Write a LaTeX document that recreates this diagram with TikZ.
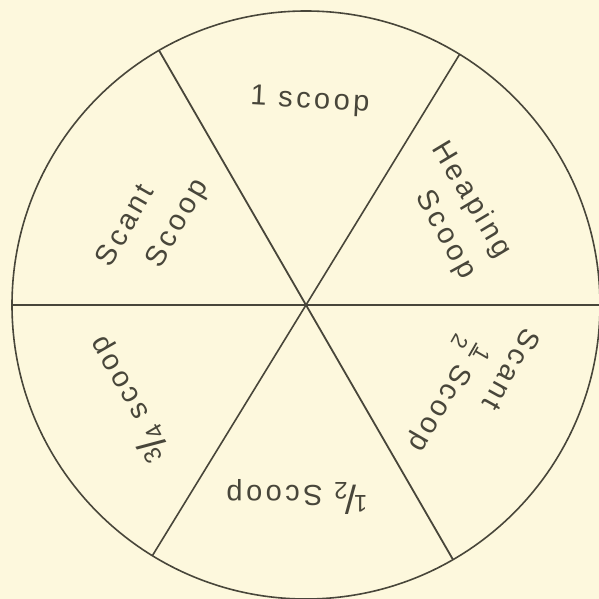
\documentclass[tikz,border=0pt]{standalone}
\usepackage{fontspec}
\usepackage{tikz}
\usetikzlibrary{calc}
\newfontfamily\handfont[LetterSpace=12]{Liberation Sans}
\definecolor{paper}{RGB}{253,248,221}
\definecolor{ink}{RGB}{72,70,58}
% hand-written fractions
\newcommand\slfrac[2]{\raisebox{0.34em}{\fontsize{24}{24}\selectfont #1}\kern-0.08em{\fontsize{40}{40}\selectfont/}\kern-0.08em\raisebox{-0.12em}{\fontsize{24}{24}\selectfont #2}}
\newcommand\stfrac[2]{\raisebox{-0.5em}{\fontsize{22}{17}\selectfont\shortstack{#1\\[-1pt]{\color{ink}\rule{0.7em}{1.8pt}}\\[3pt]#2}}}

\begin{document}
\begin{tikzpicture}[x=1pt, y=1pt, every node/.style={font=\fontsize{29}{34}\selectfont\handfont, text=ink, inner sep=0pt}]
        \fill[paper] (-306,-294) rectangle (293,305);
        \useasboundingbox (-306,-294) rectangle (293,305);
        \coordinate (c) at (0,0);
        \draw[ink, line width=1.6pt] (c) circle (294);
        % spokes
        \coordinate (w) at (180:294);
        \coordinate (e) at (0:294);
        \coordinate (nw) at (120:294);
        \coordinate (se) at (300:294);
        \coordinate (ne) at (58.5:294);
        \coordinate (sw) at (238.5:294);
        \draw[ink, line width=1.6pt] (w) -- (e);
        \draw[ink, line width=1.8pt] (nw) -- (se);
        \draw[ink, line width=1.6pt] (ne) -- (sw);
        % labels
        \node[rotate=-3] (one) at (4,204) {1 scoop};
        \node[rotate=-59] (heap) at (165,105) {Heaping};
        \node[rotate=-61] (heaps) at (139,70) {Scoop};
        \node[rotate=60] (scant) at (-182,80) {Scant};
        \node[rotate=60] (scants) at (-128,81) {Scoop};
        \node[rotate=-119] (shalf) at (206,-65) {Scant};
        \node[rotate=-120] (shalfs) at (138,-90) {\stfrac{1}{2}\ Scoop};
        \node[rotate=120] (three) at (-178,-94) {\slfrac{3}{4}\ scoop};
        \node[rotate=180] (half) at (-9,-192) {\slfrac{1}{2}\ Scoop};
    \end{tikzpicture}
\end{document}
